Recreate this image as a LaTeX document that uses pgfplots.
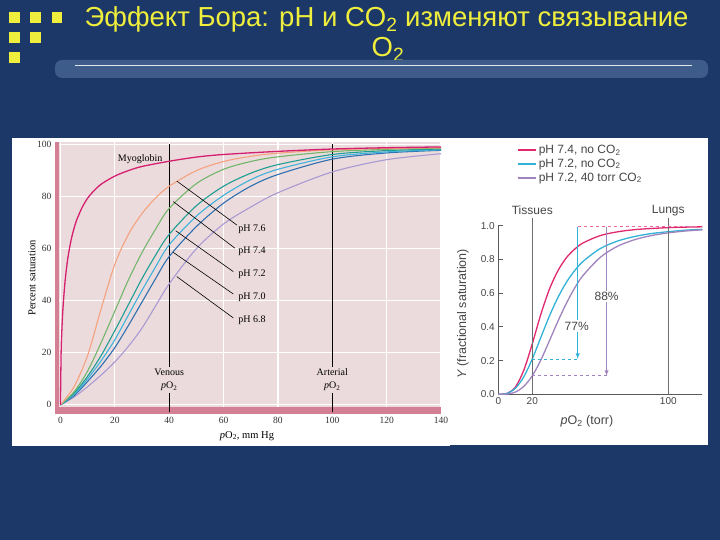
\documentclass[border=0pt]{standalone}
\usepackage{pgfplots}
\pgfplotsset{compat=1.18}
\usepackage{fontspec}
\setmainfont{Liberation Serif}
\setsansfont{Liberation Sans}
\definecolor{slidebg}{RGB}{28,56,104}
\definecolor{barcol}{RGB}{62,92,138}
\definecolor{titleyellow}{RGB}{240,238,60}
\definecolor{pinkbg}{RGB}{236,219,221}
\definecolor{bandpink}{RGB}{212,128,148}
\definecolor{myo}{RGB}{213,32,111}
\definecolor{corange}{RGB}{245,162,126}
\definecolor{cgreen}{RGB}{115,182,107}
\definecolor{cteal}{RGB}{30,158,146}
\definecolor{ccyan}{RGB}{61,179,220}
\definecolor{cblue}{RGB}{47,112,176}
\definecolor{cpurple}{RGB}{169,154,210}
\definecolor{rred}{RGB}{224,40,110}
\definecolor{rcyan}{RGB}{50,178,214}
\definecolor{rpurple}{RGB}{160,132,190}
\definecolor{axisgrey}{RGB}{90,90,90}
\definecolor{textgrey}{RGB}{70,70,70}
\definecolor{linegrey}{RGB}{110,110,110}
\begin{document}
\begin{tikzpicture}
% slide background
\fill[slidebg] (0pt,0pt) rectangle (720pt,540pt);
% decorative squares
\fill[titleyellow] (9pt,517pt) rectangle (20pt,528pt);
\fill[titleyellow] (30pt,517pt) rectangle (41pt,528pt);
\fill[titleyellow] (52pt,517pt) rectangle (62pt,528pt);
\fill[titleyellow] (9pt,497pt) rectangle (20pt,508pt);
\fill[titleyellow] (30pt,497pt) rectangle (41pt,508pt);
\fill[titleyellow] (9pt,477pt) rectangle (20pt,488pt);
% title
\node[anchor=base, text=titleyellow, font=\sffamily\fontsize{27.5}{32}\selectfont, inner sep=0pt] at (386.5pt,513pt) {Эффект Бора: pH и CO\textsubscript{2} изменяют связывание};
\node[anchor=base, text=titleyellow, font=\sffamily\fontsize{27.5}{32}\selectfont, inner sep=0pt] at (388pt,483pt) {O\textsubscript{2}};
% separator bar
\fill[barcol, rounded corners=7pt] (55pt,462pt) rectangle (708pt,480pt);
\draw[white, opacity=0.85, line width=0.9pt] (75pt,474.5pt) -- (692pt,474.5pt);
% panels
\fill[white] (12pt,94pt) rectangle (450pt,402pt);
\fill[white] (450pt,95pt) rectangle (708pt,402pt);

% ---------------- left chart ----------------
\begin{axis}[
  at={(55pt,126pt)}, anchor=south west, scale only axis,
  width=386pt, height=272pt,
  xmin=-2, xmax=140, ymin=-3.5, ymax=101,
  axis background/.style={fill=pinkbg},
  axis line style={draw=none},
  xtick={0,20,...,140}, ytick={0,20,...,100},
  major tick length=0pt,
  grid=major, major grid style={white, line width=1.2pt},
  ticklabel style={font=\fontsize{9.5}{10}\selectfont, text=black!80},
  /pgf/number format/assume math mode=true,
  clip=false,
  every axis plot/.append style={line width=1.1pt, no markers, smooth},
]
\fill[bandpink] (axis cs:-2,-3.5) rectangle (axis cs:140,-1.0);
\fill[bandpink] (axis cs:-2,-3.5) rectangle (axis cs:-0.4,101);
\draw[black, line width=0.9pt] (axis cs:40,-2.6) -- (axis cs:40,100.3);
\draw[black, line width=0.9pt] (axis cs:100,-2.6) -- (axis cs:100,100.3);

\addplot[cpurple] coordinates {(0,0) (5,3) (10,7) (15,11.5) (20,16.5) (25,22.5) (30,29.5) (35,38) (40,46.5) (50,60) (60,69.5) (70,76) (80,81.5) (100,89.5) (120,94.2) (140,96.5)};
\addplot[cblue] coordinates {(0,0) (5,3.5) (10,9) (15,15) (20,22) (25,30.5) (30,39.5) (35,48.5) (40,57) (50,68.5) (60,77.5) (70,84) (80,88.5) (100,94.4) (120,96.8) (140,97.8)};
\addplot[ccyan] coordinates {(0,0) (5,4) (10,10) (15,17) (20,25) (25,34.5) (30,44) (35,53) (40,61.5) (50,72.5) (60,80.5) (70,86.5) (80,90.5) (100,95.3) (120,97.2) (140,98)};
\addplot[cteal] coordinates {(0,0) (5,4.5) (10,11) (15,19) (20,28.5) (25,38.5) (30,48.5) (35,57.5) (40,65.5) (50,76.5) (60,84) (70,89) (80,92.3) (100,96.2) (120,97.7) (140,98.3)};
\addplot[cgreen] coordinates {(0,0) (5,5) (10,13) (15,24) (20,36) (25,48) (30,58.5) (35,67.5) (40,75.5) (50,85) (60,90.5) (70,93.5) (80,95.3) (100,97.3) (120,98.2) (140,98.6)};
\addplot[corange] coordinates {(0,0) (5,7) (10,19) (15,37) (20,54) (25,65.5) (30,73.5) (35,79.5) (40,84) (50,90) (60,93.5) (70,95.5) (80,96.7) (100,98) (120,98.5) (140,98.8)};
\addplot[myo, line width=1.3pt] coordinates {(0,0) (0.25,20.2) (0.5,28) (0.75,33.7) (1,38.2) (1.5,45.1) (2,50.4) (2.5,54.7) (3,58.2) (4,63.7) (5,67.8) (6,71.1) (8,75.9) (10,79.4) (12,81.9) (15,84.8) (20,87.9) (25,90) (30,91.6) (40,93.6) (50,95.2) (60,96.2) (80,97.4) (100,98.3) (120,98.8) (140,99.1)};

% pointer lines
\draw[black, line width=0.6pt] (axis cs:42.8,86.0) -- (axis cs:64.9,69.1);
\draw[black, line width=0.6pt] (axis cs:41.5,78.1) -- (axis cs:64.2,60.2);
\draw[black, line width=0.6pt] (axis cs:42.4,66.9) -- (axis cs:63.6,51.2);
\draw[black, line width=0.6pt] (axis cs:41.5,58.6) -- (axis cs:63.6,42.6);
\draw[black, line width=0.6pt] (axis cs:42.8,49.3) -- (axis cs:63.6,33.4);
\begin{scope}[every node/.style={anchor=west, font=\fontsize{10}{11}\selectfont, inner sep=1pt}]
\node at (axis cs:65,67.6) {pH 7.6};
\node at (axis cs:65,59.1) {pH 7.4};
\node at (axis cs:65,50.3) {pH 7.2};
\node at (axis cs:65,41.5) {pH 7.0};
\node at (axis cs:65,32.6) {pH 6.8};
\end{scope}
\node[font=\fontsize{10}{11}\selectfont, inner sep=1pt] at (axis cs:29.3,94.5) {Myoglobin};
\node[fill=pinkbg, align=center, font=\fontsize{10}{13}\selectfont, inner sep=2pt] at (axis cs:40,9.6) {Venous\\\textit{p}O\textsubscript{2}};
\node[fill=pinkbg, align=center, font=\fontsize{10}{13}\selectfont, inner sep=2pt] at (axis cs:100,9.6) {Arterial\\\textit{p}O\textsubscript{2}};
\end{axis}
\node[rotate=90, font=\fontsize{10.5}{11}\selectfont] at (32pt,262pt) {Percent saturation};
\node[font=\fontsize{10.5}{11}\selectfont] at (247pt,104pt) {\textit{p}O\textsubscript{2}, mm Hg};

% ---------------- right chart ----------------
\begin{axis}[
  at={(498.3pt,145.7pt)}, anchor=south west, scale only axis,
  width=204pt, height=168.5pt,
  xmin=0, xmax=120, ymin=0, ymax=1,
  axis x line=bottom, axis y line=left,
  axis line style={draw=axisgrey, line width=0.8pt, -},
  xtick={0,20,100}, ytick={0,0.2,0.4,0.6,0.8,1.0},
  yticklabel style={/pgf/number format/.cd, fixed, fixed zerofill, precision=1},
  tick align=inside, major tick length=5pt,
  tick style={axisgrey, line width=0.8pt},
  ticklabel style={font=\sffamily\fontsize{10}{11}\selectfont, text=textgrey},
  /pgf/number format/assume math mode=true,
  clip=false,
  legend style={at={(0.075,1.505)}, anchor=north west, draw=none, fill=none,
    font=\sffamily\fontsize{12}{14}\selectfont,
    cells={anchor=west, text=textgrey}, row sep=0pt},
  legend image code/.code={\draw[#1, line width=2pt] (0pt,0pt) -- (18pt,0pt);},
]
\addplot[rred, line width=1.3pt, smooth, no markers] coordinates {(0,0) (5,0.005) (10,0.042) (15,0.143) (20,0.30) (25,0.474) (30,0.622) (35,0.732) (40,0.810) (45,0.862) (50,0.899) (60,0.942) (70,0.964) (80,0.977) (90,0.984) (100,0.989) (110,0.992) (120,0.994)};
\addlegendentry{pH 7.4, no CO\textsubscript{2}}
\addplot[rcyan, line width=1.3pt, smooth, no markers] coordinates {(0,0) (5,0.005) (10,0.035) (15,0.104) (20,0.21) (25,0.337) (30,0.463) (35,0.573) (40,0.664) (45,0.735) (50,0.790) (60,0.865) (70,0.909) (80,0.936) (90,0.954) (100,0.965) (110,0.974) (120,0.979)};
\addlegendentry{pH 7.2, no CO\textsubscript{2}}
\addplot[rpurple, line width=1.3pt, smooth, no markers] coordinates {(0,0) (5,0.001) (10,0.013) (15,0.047) (20,0.11) (25,0.203) (30,0.316) (35,0.432) (40,0.539) (45,0.632) (50,0.707) (60,0.813) (70,0.878) (80,0.917) (90,0.942) (100,0.958) (110,0.969) (120,0.976)};
\addlegendentry{pH 7.2, 40 torr CO\textsubscript{2}}
% reference lines
\addplot[forget plot, linegrey, line width=0.8pt] coordinates {(20,0) (20,1.045)};
\addplot[forget plot, linegrey, line width=0.8pt] coordinates {(100,0) (100,1.045)};
\addplot[forget plot, rred!70, dashed, line width=0.8pt] coordinates {(46.7,0.995) (117,0.995)};
\addplot[forget plot, rcyan, dashed, line width=0.8pt] coordinates {(20,0.21) (46.7,0.21)};
\addplot[forget plot, rpurple, dashed, line width=0.8pt] coordinates {(20,0.11) (63.7,0.11)};
\addplot[forget plot, rcyan, line width=0.9pt, -latex] coordinates {(46.7,0.995) (46.7,0.21)};
\addplot[forget plot, rpurple, line width=0.9pt, -latex] coordinates {(63.7,0.995) (63.7,0.11)};
\node[fill=white, inner sep=1.5pt, text=textgrey, font=\sffamily\fontsize{12}{13}\selectfont] at (axis cs:46.1,0.405) {77\%};
\node[fill=white, inner sep=1.5pt, text=textgrey, font=\sffamily\fontsize{12}{13}\selectfont] at (axis cs:63.7,0.58) {88\%};
\node[text=textgrey, font=\sffamily\fontsize{12}{13}\selectfont] at (axis cs:20,1.09) {Tissues};
\node[text=textgrey, font=\sffamily\fontsize{12}{13}\selectfont] at (axis cs:100,1.09) {Lungs};
\end{axis}
\node[rotate=90, text=textgrey, font=\sffamily\fontsize{12.5}{13}\selectfont] at (463pt,226pt) {\textit{Y} (fractional saturation)};
\node[text=textgrey, font=\sffamily\fontsize{12.5}{13}\selectfont] at (587pt,119pt) {\textit{p}O\textsubscript{2} (torr)};
\end{tikzpicture}
\end{document}
